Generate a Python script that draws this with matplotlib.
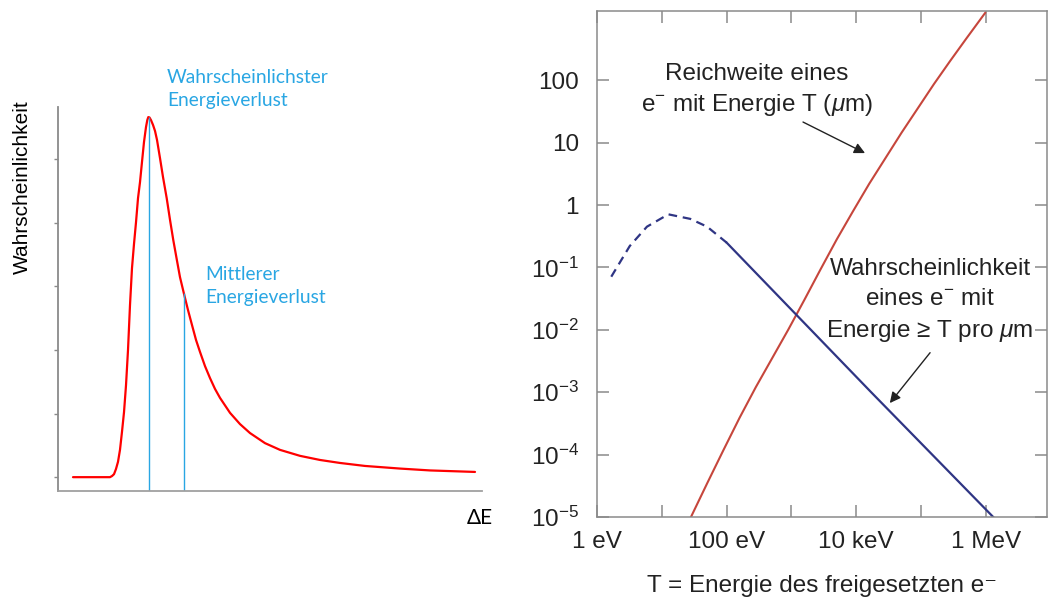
import matplotlib
matplotlib.use("Agg")
import matplotlib.pyplot as plt
import numpy as np

plt.rcParams["font.family"] = ["Liberation Sans", "DejaVu Sans"]
plt.rcParams["mathtext.fontset"] = "custom"
plt.rcParams["mathtext.rm"] = "Liberation Sans"
plt.rcParams["mathtext.it"] = "Liberation Sans:italic"
plt.rcParams["mathtext.default"] = "regular"

# --- left panel: energy loss distribution (arbitrary units) ---
loss_x = [0.354, 1.226, 1.274, 1.321, 1.368, 1.415, 1.462, 1.509, 1.557, 1.604, 1.651,
          1.698, 1.745, 1.792, 1.840, 1.887, 1.934, 1.981, 2.028, 2.075, 2.106, 2.130,
          2.158, 2.193, 2.241, 2.288, 2.335, 2.406, 2.476, 2.564, 2.642, 2.719, 2.800,
          2.877, 2.972, 3.066, 3.160, 3.255, 3.349, 3.467, 3.585, 3.703, 3.821, 4.057,
          4.292, 4.528, 4.882, 5.236, 5.708, 6.179, 6.651, 7.241, 8.066, 8.774, 9.835]
loss_y = [0.037, 0.037, 0.040, 0.045, 0.059, 0.078, 0.110, 0.158, 0.211, 0.283, 0.377,
          0.497, 0.596, 0.660, 0.719, 0.783, 0.826, 0.880, 0.933, 0.973, 0.992, 1.000,
          0.999, 0.992, 0.979, 0.963, 0.939, 0.890, 0.840, 0.783, 0.725, 0.671, 0.620,
          0.572, 0.527, 0.484, 0.444, 0.404, 0.372, 0.334, 0.302, 0.273, 0.249, 0.209,
          0.179, 0.155, 0.128, 0.110, 0.094, 0.083, 0.075, 0.067, 0.060, 0.055, 0.051]
most_probable_x = 2.14
most_probable_y = 1.0
mean_x = 2.97
mean_y = 0.529

# --- right panel: electron range and probability vs energy (log10 values) ---
range_log_energy = [1.45, 1.70, 1.95, 2.20, 2.45, 2.70, 2.95, 3.20, 3.45, 3.70,
                    3.95, 4.20, 4.45, 4.70, 4.95, 5.20, 5.45, 5.70, 5.99]
range_log_um = [-5.0, -4.46, -3.93, -3.41, -2.92, -2.46, -2.0, -1.52, -1.03, -0.55,
                -0.10, 0.34, 0.75, 1.16, 1.55, 1.94, 2.31, 2.67, 3.08]

prob_energy_dashed = [1.66, 3.2, 5.9, 12.6, 27.5, 50, 100]
prob_dashed = [0.071, 0.22, 0.45, 0.71, 0.60, 0.45, 0.25]
prob_energy_solid = [100, 17000, 1.3e6]
prob_solid = [0.25, 1.0e-3, 1e-5]

x_ticks = [1, 1e1, 1e2, 1e3, 1e4, 1e5, 1e6]
x_tick_labels = ["1 eV", "", "100 eV", "", "10 keV", "", "1 MeV"]
y_ticks = [1e-5, 1e-4, 1e-3, 1e-2, 1e-1, 1, 10, 100]
y_tick_labels = ["$10^{-5}$", "$10^{-4}$", "$10^{-3}$", "$10^{-2}$", "$10^{-1}$", "1", "10", "100"]

W, H = 1051, 599
fig = plt.figure(figsize=(W / 100, H / 100), dpi=100)
fig.patch.set_facecolor("white")

light_blue = "#29a6e3"
grey = "#8a8a8a"
ink = "#222222"

# left axes
axl = fig.add_axes([58 / W, (H - 491) / H, (482 - 58) / W, (491 - 107) / H])
axl.plot(loss_x, loss_y, color="#ff0000", lw=1.6, solid_capstyle="round", solid_joinstyle="round")
axl.vlines([most_probable_x, mean_x], 0, [most_probable_y, mean_y], color=light_blue, lw=1.0)
axl.set_xlim(0, 10)
axl.set_ylim(0, 1.027)
axl.spines["top"].set_visible(False)
axl.spines["right"].set_visible(False)
axl.spines["left"].set_color(grey)
axl.spines["bottom"].set_color("#a0a0a0")
axl.spines["left"].set_linewidth(1.3)
axl.spines["bottom"].set_linewidth(1.3)
axl.set_xticks([])
axl.set_yticks([0.037, 0.207, 0.378, 0.548, 0.718, 0.888])
axl.tick_params(axis="y", length=3, width=1.0, color=grey, labelleft=False)

axl.text(2.57, 1.075, "Wahrscheinlichster\nEnergieverlust", color=light_blue, family="Lato",
         fontsize=13.8, ha="left", va="center", linespacing=1.45, clip_on=False)
axl.text(3.47, 0.548, "Mittlerer\nEnergieverlust", color=light_blue, family="Lato",
         fontsize=13.8, ha="left", va="center", linespacing=1.45)
axl.text(9.95, -0.072, "ΔE", color="black", family="Lato", fontsize=15,
         ha="center", va="center", clip_on=False)
fig.text(22 / W, (H - 187) / H, "Wahrscheinlichkeit", rotation=90, fontsize=15,
         ha="center", va="center", color="black")

# right axes
axr = fig.add_axes([597 / W, (H - 517) / H, (1047 - 597) / W, (517 - 11) / H])
axr.set_xscale("log")
axr.set_yscale("log")
axr.plot(10 ** np.array(range_log_energy), 10 ** np.array(range_log_um), color="#c6463c", lw=1.5)
axr.plot(prob_energy_dashed, prob_dashed, color="#2f3584", lw=1.6, dashes=(3.9, 2.6))
axr.plot(prob_energy_solid, prob_solid, color="#2f3584", lw=1.6)
axr.set_xlim(1, 10 ** 6.944)
axr.set_ylim(1e-5, 10 ** 3.11)
axr.set_xticks(x_ticks)
axr.set_xticklabels(x_tick_labels)
axr.set_yticks(y_ticks)
axr.set_yticklabels(y_tick_labels)
axr.minorticks_off()
axr.tick_params(axis="both", which="major", direction="in", length=8.5, width=1.1,
                color=grey, labelsize=17.5, top=True, right=True, labelcolor=ink)
axr.tick_params(axis="y", pad=13)
axr.tick_params(axis="x", pad=10)
for sp in axr.spines.values():
    sp.set_color(grey)
    sp.set_linewidth(1.1)
axr.set_xlabel("T = Energie des freigesetzten e⁻", fontsize=17.5, color=ink, labelpad=16)

axr.text(295, 68, "Reichweite eines\ne$^{-}$ mit Energie T ($\\mathit{\\mu}$m)", fontsize=17.5,
         ha="center", va="center", color=ink, linespacing=1.35)
axr.annotate("", xy=(13680, 6.8), xytext=(1510, 21.4),
             arrowprops=dict(arrowstyle="-|>", color=ink, lw=1.0,
                             mutation_scale=16, shrinkA=0, shrinkB=0))
axr.text(1.38e5, 0.029, "Wahrscheinlichkeit\neines e$^{-}$ mit\nEnergie ≥ T pro $\\mathit{\\mu}$m",
         fontsize=17.5, ha="center", va="center", color=ink, linespacing=1.42)
axr.annotate("", xy=(33000, 6.7e-4), xytext=(1.38e5, 0.0043),
             arrowprops=dict(arrowstyle="-|>", color=ink, lw=1.0,
                             mutation_scale=16, shrinkA=0, shrinkB=0))

fig.savefig("out.png", dpi=100, facecolor="white")
